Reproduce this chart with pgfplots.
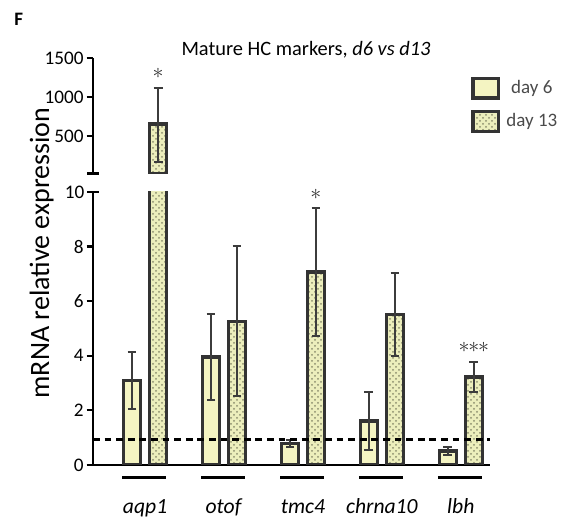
\documentclass[border=0pt]{standalone}
\usepackage{fontspec}
\setmainfont{Carlito}
\usepackage{pgfplots}
\pgfplotsset{compat=1.18}
\usetikzlibrary{patterns}
\definecolor{cSix}{HTML}{F4F4C2}
\definecolor{cThirteen}{HTML}{ECEEBC}
\definecolor{cDots}{HTML}{8A8C6C}
\definecolor{cEdge}{HTML}{333333}
\definecolor{cErr}{HTML}{3C3C3C}
\definecolor{cLeg}{HTML}{4A4A4A}
\newcommand{\stars}[1]{$\ifcase#1\or\ast\or\ast\mkern-5mu\ast\or\ast\mkern-5mu\ast\mkern-5mu\ast\fi$}
\tikzset{starnode/.style={font=\fontsize{10.5}{12}\selectfont, text=cEdge, inner sep=0pt}}
\pgfplotsset{
  common/.style={
    scale only axis, width=198.5pt,
    xmin=-0.66, xmax=4.37,
    ybar, bar width=8.5pt, bar shift=0pt,
    axis line style={line width=1.1pt, black},
    every tick/.style={line width=1.1pt, black},
    major tick length=3.2pt,
    ytick align=outside, ytick pos=left,
    yticklabel style={font=\fontsize{9.6}{11}\selectfont, xshift=2pt},
    /pgf/number format/assume math mode=true,
    /pgf/number format/1000 sep={},
    clip mode=individual,
  },
  errs/.style={
    error bars/y dir=both, error bars/y explicit,
    error bars/error bar style={line width=1pt, cErr},
    error bars/error mark options={rotate=90, mark size=2.2pt, line width=1pt, cErr}},
  sixstyle/.style={fill=cSix, draw=cEdge, line width=1.7pt, errs},
  thirteenstyle/.style={fill=cThirteen, draw=cEdge, line width=1.7pt,
    postaction={pattern=crosshatch dots, pattern color=cDots}, errs},
}
\begin{document}
\begin{tikzpicture}
\useasboundingbox (0,0) rectangle (291.5pt,258.5pt);
% lower axis
\begin{axis}[common,
  at={(46.5pt,26pt)}, anchor=south west, height=136.5pt,
  ymin=0, ymax=10,
  axis x line*=bottom, axis y line*=left,
  ytick={0,2,4,6,8},
  extra y ticks={10},
  extra y tick style={ytick align=center, major tick length=5.6pt},
  xtick={0,1,2,3,4},
  xticklabels={\textit{aqp1},\textit{otof},\textit{tmc4},\textit{chrna10},\textit{lbh}},
  xtick style={draw=none},
  xticklabel style={font=\fontsize{10.8}{12}\selectfont, anchor=base, yshift=-21pt},
  legend style={at={(0.937,1.44)}, anchor=north west, draw=none, fill=none,
    font=\fontsize{9.5}{11}\selectfont, text=cLeg, row sep=4.5pt,
    nodes={inner xsep=3pt}},
  legend image code/.code={\draw[#1] (0pt,-4.9pt) rectangle (12.8pt,4.9pt);},
]
\addplot[sixstyle] table[x=x, y=y, y error=e] {
x y e
-0.165 3.10 1.05
0.835 3.96 1.58
1.835 0.79 0.13
2.835 1.61 1.07
3.835 0.51 0.15
};
\addlegendentry{day 6}
\addplot[thirteenstyle] table[x=x, y=y, y error=e] {
x y e
0.165 655 470
1.165 5.26 2.75
2.165 7.07 2.33
3.165 5.51 1.52
4.165 3.23 0.54
};
\addlegendentry{day 13}
\addplot[black, line width=1.4pt, dash pattern=on 3.4pt off 2.4pt, sharp plot, forget plot]
  coordinates {(-0.66,0.94) (4.37,0.94)};
\pgfplotsinvokeforeach{0,1,2,3,4}{
  \draw[line width=1.5pt, black] (axis cs:#1-0.29,-0.475) -- (axis cs:#1+0.27,-0.475);
}
\node[starnode] at (axis cs:2.165,9.9) {\stars{1}};
\node[starnode] at (axis cs:4.165,4.3) {\stars{3}};
\end{axis}
% upper axis
\begin{axis}[common,
  at={(46.5pt,171.75pt)}, anchor=south west, height=57.75pt,
  ymin=20, ymax=1500,
  axis x line=none, axis y line*=left,
  ytick={500,1000,1500},
  extra y ticks={20}, extra y tick labels={},
  extra y tick style={ytick align=center, major tick length=5.6pt},
]
\addplot[thirteenstyle, forget plot] table[x=x, y=y, y error plus=ep, y error minus=em] {
x y ep em
0.165 655 460 488
};
\node[starnode] at (axis cs:0.165,1300) {\stars{1}};
\end{axis}
\node[font=\fontsize{10.2}{12}\selectfont] at (153pt,233.5pt) {Mature HC markers, \textit{d6 vs d13}};
\node[font=\bfseries\fontsize{9.5}{11}\selectfont, anchor=north west, inner sep=0pt] at (7pt,252pt) {F};
\node[font=\fontsize{14}{16}\selectfont, rotate=90, anchor=base, inner sep=0pt] at (24.5pt,132pt) {mRNA relative expression};
\end{tikzpicture}
\end{document}
